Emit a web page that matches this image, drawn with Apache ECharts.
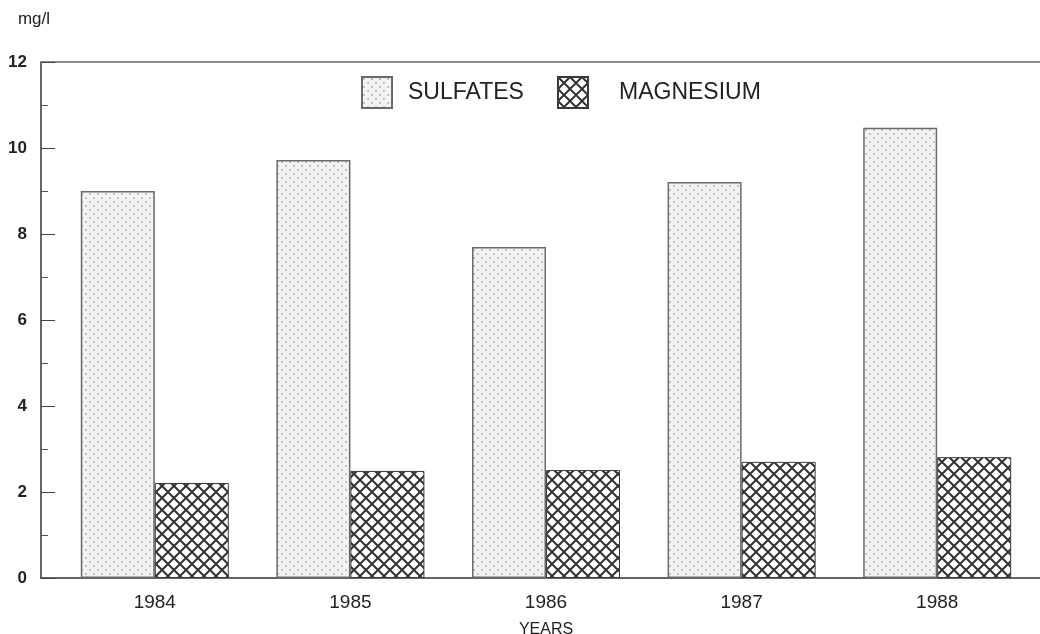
<!DOCTYPE html>
<html>
<head>
<meta charset="utf-8">
<script src="https://cdn.jsdelivr.net/npm/echarts@6/dist/echarts.min.js"></script>
<style>
html,body{margin:0;padding:0;background:#fff;}
#chart{width:1040px;height:634px;}
</style>
</head>
<body>
<div id="chart"></div>
<script>
const categories = ['1984', '1985', '1986', '1987', '1988'];
const sulfates = [9.0, 9.72, 7.7, 9.21, 10.47];
const magnesium = [2.21, 2.49, 2.51, 2.7, 2.81];
const seriesNames = ['SULFATES', 'MAGNESIUM'];
const yTicks = { min: 0, max: 12, interval: 2 };

function dotPattern() {
  const c = document.createElement('canvas');
  c.width = 8; c.height = 8;
  const g = c.getContext('2d');
  g.fillStyle = '#f3f3f3';
  g.fillRect(0, 0, 8, 8);
  g.fillStyle = '#c2c2c2';
  g.fillRect(1, 1, 2, 2);
  g.fillRect(5, 5, 2, 2);
  return c;
}
function hatchPattern() {
  const s = 12;
  const c = document.createElement('canvas');
  c.width = s; c.height = s;
  const g = c.getContext('2d');
  g.fillStyle = '#ffffff';
  g.fillRect(0, 0, s, s);
  g.strokeStyle = '#333333';
  g.lineWidth = 2;
  g.beginPath();
  g.moveTo(-2, -2); g.lineTo(s + 2, s + 2);
  g.moveTo(s + 2, -2); g.lineTo(-2, s + 2);
  g.stroke();
  return c;
}

const chart = echarts.init(document.getElementById('chart'));
const font = 'Liberation Sans, Arial, sans-serif';

chart.setOption({
  animation: false,
  backgroundColor: '#ffffff',
  textStyle: { fontFamily: font },
  legend: [
    {
      data: [seriesNames[0]], left: 361, top: 76, padding: 0, icon: 'rect',
      itemWidth: 30, itemHeight: 31,
      textStyle: { fontSize: 23, color: '#222', padding: [0, 0, 0, 11] }
    },
    {
      data: [seriesNames[1]], left: 557, top: 76, padding: 0, icon: 'rect',
      itemWidth: 30, itemHeight: 31,
      textStyle: { fontSize: 23, color: '#222', padding: [0, 0, 8, 26] }
    }
  ],
  grid: [
    { left: 41, right: 0, top: 62, bottom: 56, outerBoundsMode: 'none', containLabel: false },
    { left: 57, right: 5, top: 62, bottom: 56, outerBoundsMode: 'none', containLabel: false }
  ],
  xAxis: [
    {
      type: 'value', gridIndex: 0, min: 0, max: 1, position: 'bottom',
      axisLine: { show: true, lineStyle: { color: '#333', width: 1.5 } },
      axisTick: { show: false }, axisLabel: { show: false }, splitLine: { show: false }
    },
    {
      type: 'value', gridIndex: 0, min: 0, max: 1, position: 'top',
      axisLine: { show: true, lineStyle: { color: '#8a8a8a', width: 2 } },
      axisTick: { show: false }, axisLabel: { show: false }, splitLine: { show: false }
    },
    {
      type: 'category', gridIndex: 1, data: categories,
      axisLine: { show: false }, axisTick: { show: false },
      axisLabel: { fontSize: 19, color: '#222', margin: 15 },
      name: 'YEARS', nameLocation: 'middle', nameGap: 44,
      nameTextStyle: { fontSize: 16, color: '#222' }
    }
  ],
  yAxis: [
    {
      type: 'value', gridIndex: 0, min: yTicks.min, max: yTicks.max, interval: yTicks.interval,
      name: 'mg/l', nameLocation: 'end', nameGap: 34,
      nameTextStyle: { fontSize: 17, color: '#222', align: 'center', padding: [0, 14, 0, 0] },
      axisLine: { show: true, lineStyle: { color: '#333', width: 1.5 } },
      axisTick: { show: true, inside: true, length: 14, lineStyle: { color: '#444' } },
      minorTick: { show: true, splitNumber: 2, length: 7, lineStyle: { color: '#555' } },
      axisLabel: { fontSize: 17, fontWeight: 'bold', color: '#222', margin: 14 },
      splitLine: { show: false }
    },
    {
      type: 'value', gridIndex: 1, min: yTicks.min, max: yTicks.max, show: false
    }
  ],
  series: [
    {
      name: seriesNames[0], type: 'bar', xAxisIndex: 2, yAxisIndex: 1,
      data: sulfates, barWidth: 74, barGap: '0%',
      itemStyle: {
        color: { image: dotPattern(), repeat: 'repeat' },
        borderColor: '#6a6a6a', borderWidth: 1.5
      }
    },
    {
      name: seriesNames[1], type: 'bar', xAxisIndex: 2, yAxisIndex: 1,
      data: magnesium, barWidth: 74, barGap: '0%',
      itemStyle: {
        color: { image: hatchPattern(), repeat: 'repeat' },
        borderColor: '#3a3a3a', borderWidth: 1
      }
    }
  ]
});
</script>
</body>
</html>
